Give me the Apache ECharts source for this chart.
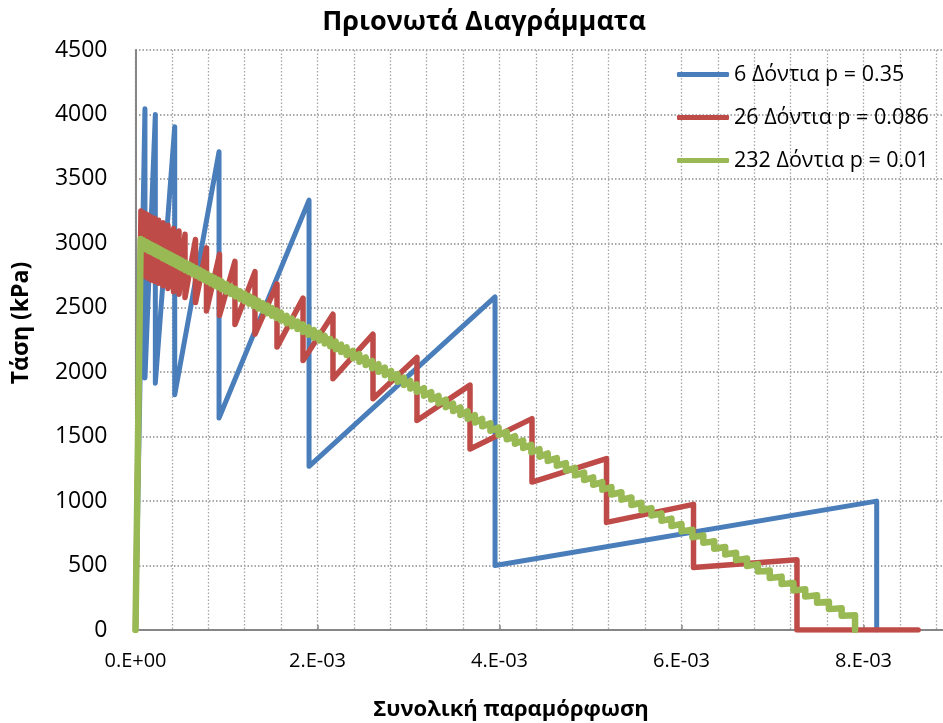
<!DOCTYPE html>
<html><head><meta charset="utf-8">
<script src="https://cdn.jsdelivr.net/npm/echarts@6/dist/echarts.min.js"></script>
<style>html,body{margin:0;padding:0;background:#fff}#c{width:943px;height:723px}</style>
</head><body><div id="c"></div>
<script>
// strain values are in units of 1e-3
const seriesNames = ['6 Δόντια p = 0.35', '26 Δόντια p = 0.086', '232 Δόντια p = 0.01'];
const xTickValues = [0, 2, 4, 6, 8, 10];
const xTickLabels = ['0.E+00', '2.E-03', '4.E-03', '6.E-03', '8.E-03', '1.E-02'];
const titleText = 'Πριονωτά Διαγράμματα';
const xTitle = 'Συνολική παραμόρφωση';
const yTitle = 'Τάση (kPa)';

const blueX = [0.104, 0.218, 0.431, 0.918, 1.907, 3.951, 8.145];
const bluePeak = [4045, 4000, 3905, 3710, 3335, 2585, 1000];
const blueTrough = [1955, 1915, 1825, 1645, 1270, 500, 0];

const redX = [0.060,0.082,0.110,0.137,0.170,0.209,0.253,0.302,0.357,0.418,0.478,0.544,0.659,0.780,0.923,1.093,1.313,1.555,1.841,2.170,2.610,3.093,3.676,4.357,5.176,6.132,7.269];
const redPeak = [3250,3240,3230,3220,3205,3195,3180,3160,3140,3115,3095,3070,3030,2965,2915,2860,2780,2685,2575,2450,2295,2115,1900,1640,1330,975,545];
const redTrough = [2760,2750,2740,2730,2715,2705,2690,2670,2650,2625,2605,2580,2540,2475,2440,2370,2295,2195,2090,1950,1795,1625,1405,1148,835,485,0];
const redEndX = 8.6;

const greenX = [0.057,0.09,0.12,0.15,0.18,0.21,0.24,0.27,0.30,0.33,0.36,0.39,0.42,0.45,0.48,0.51,0.55,0.59,0.63,0.67,0.71,0.75,0.79,0.83,0.87,0.91,0.95,1.00,1.05,1.10,1.15,1.20,1.25,1.30,1.35,1.40,1.45,1.50,1.55,1.60,1.66,1.72,1.78,1.84,1.90,1.96,2.02,2.08,2.14,2.20,2.26,2.32,2.39,2.46,2.53,2.60,2.67,2.74,2.81,2.88,2.95,3.02,3.09,3.17,3.25,3.33,3.41,3.49,3.57,3.65,3.73,3.81,3.90,3.99,4.08,4.17,4.26,4.35,4.44,4.53,4.63,4.73,4.83,4.93,5.03,5.13,5.23,5.34,5.45,5.56,5.67,5.78,5.89,6.00,6.12,6.24,6.36,6.48,6.60,6.72,6.84,6.97,7.10,7.23,7.36,7.49,7.62,7.76,7.907];
const greenTop = [3034,3022,3010,2999,2988,2977,2966,2955,2943,2932,2921,2910,2899,2888,2876,2865,2850,2836,2821,2806,2791,2776,2761,2746,2731,2717,2702,2683,2664,2646,2627,2609,2590,2571,2553,2534,2516,2497,2478,2460,2437,2415,2393,2370,2348,2326,2304,2281,2259,2237,2214,2192,2166,2140,2114,2088,2062,2036,2010,1984,1958,1932,1906,1876,1846,1816,1787,1757,1727,1697,1667,1638,1604,1571,1537,1504,1470,1437,1403,1370,1333,1295,1258,1221,1184,1147,1109,1069,1028,987,946,905,864,823,778,734,689,644,600,555,511,462,414,365,317,269,220,168,114];
const greenBot = [2976,2964,2952,2941,2930,2919,2908,2897,2885,2874,2863,2852,2841,2830,2818,2807,2792,2778,2763,2748,2733,2718,2703,2688,2673,2659,2644,2625,2606,2588,2569,2551,2532,2513,2495,2476,2458,2439,2420,2402,2379,2357,2335,2312,2290,2268,2246,2223,2201,2179,2156,2134,2108,2082,2056,2030,2004,1978,1952,1926,1900,1874,1848,1818,1788,1758,1729,1699,1669,1639,1609,1580,1546,1513,1479,1446,1412,1379,1345,1312,1275,1237,1200,1163,1126,1089,1051,1011,970,929,888,847,806,765,720,676,631,586,542,497,453,404,356,307,259,211,162,110,0];

function sawPath(xs, tops, bots) {
  const d = [[0, 0]];
  for (let i = 0; i < xs.length; i++) { d.push([xs[i], tops[i]]); d.push([xs[i], bots[i]]); }
  return d;
}
const blueData = sawPath(blueX, bluePeak, blueTrough);
const redData = sawPath(redX, redPeak, redTrough); redData.push([redEndX, 0]);
const greenData = sawPath(greenX, greenTop, greenBot);

const FONT = '"Open Sans", "Noto Sans", sans-serif';
const colors = ['#4A7EBB', '#BE4B48', '#98B954'];
const widths = [5, 5.5, 6.5];
const dataSets = [blueData, redData, greenData];

const chart = echarts.init(document.getElementById('c'), null, {renderer: 'canvas'});
chart.setOption({
  animation: false,
  backgroundColor: '#ffffff',
  color: colors,
  grid: {left: 135.5, top: 50, bottom: 93, right: -102.5, containLabel: false, outerBoundsMode: 'none'},
  legend: {
    orient: 'vertical', left: 672, top: 57, itemWidth: 52, itemHeight: 5, itemGap: 18,
    icon: 'roundRect', data: seriesNames,
    textStyle: {fontFamily: FONT, fontSize: 21.5, color: '#000', lineHeight: 25}
  },
  xAxis: {
    type: 'value', min: 0, max: 10, interval: 2,
    axisLine: {show: true, lineStyle: {color: '#868686', width: 2}},
    axisTick: {show: true, inside: true, length: 5, lineStyle: {color: '#868686', width: 1.5}},
    minorTick: {show: false, splitNumber: 5},
    splitLine: {show: true, lineStyle: {color: '#a6a6a6', width: 1.3, type: [1.5, 2]}},
    minorSplitLine: {show: true, lineStyle: {color: '#a6a6a6', width: 1.3, type: [1.5, 2]}},
    axisLabel: {
      fontFamily: FONT, fontSize: 20, color: '#000', margin: 21,
      formatter: v => { const i = xTickValues.indexOf(Math.round(v)); return i >= 0 ? xTickLabels[i] : ''; }
    }
  },
  yAxis: {
    type: 'value', min: 0, max: 4500, interval: 500,
    axisLine: {show: true, lineStyle: {color: '#868686', width: 2}},
    axisTick: {show: false},
    splitLine: {show: true, lineStyle: {color: '#8c8c8c', width: 1.5, type: [1.5, 2]}},
    axisLabel: {fontFamily: FONT, fontSize: 23, color: '#000', margin: 28, formatter: v => String(v)}
  },
  graphic: [
    {type: 'text', x: 484, y: 22, style: {text: titleText, fontFamily: FONT, fontSize: 27, fontWeight: 'bold', fill: '#000', align: 'center', verticalAlign: 'middle', textAlign: 'center', textVerticalAlign: 'middle'}},
    {type: 'text', x: 511, y: 710, style: {text: xTitle, fontFamily: FONT, fontSize: 22, fontWeight: 'bold', fill: '#000', align: 'center', verticalAlign: 'middle', textAlign: 'center', textVerticalAlign: 'middle'}},
    {type: 'text', x: 21, y: 323, rotation: Math.PI / 2, style: {text: yTitle, fontFamily: FONT, fontSize: 23, fontWeight: 'bold', fill: '#000', align: 'center', verticalAlign: 'middle', textAlign: 'center', textVerticalAlign: 'middle'}}
  ],
  series: seriesNames.map((n, k) => ({
    name: n, type: 'line', data: dataSets[k], showSymbol: false, symbol: 'none', z: 2 + k,
    lineStyle: {color: colors[k], width: widths[k], cap: 'round', join: 'round'},
    itemStyle: {color: colors[k]}
  }))
});
</script></body></html>
